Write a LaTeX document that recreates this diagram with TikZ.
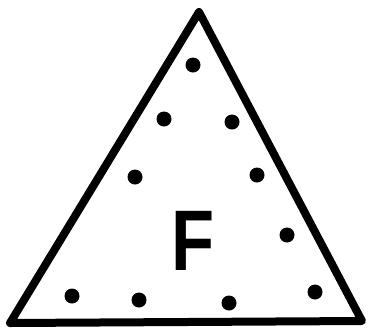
\documentclass[tikz,border=0pt]{standalone}
\usepackage{fontspec}
\setsansfont{Liberation Sans}
\begin{document}
\begin{tikzpicture}[x=1pt, y=-1pt]
	\useasboundingbox (0, 0) rectangle (369, 333);
	\draw[line width=8pt, line join=round] (199, 12)--(10, 323)--(362, 321)--cycle;
	\foreach \x/\y in {193/65, 164/119, 232/122, 135/177, 257/175, 287/235, 72/296, 139/300, 229/303, 315/292}
		\fill (\x, \y) circle (7.5);
	\node[xscale=0.82] (letterF) at (193, 241) {\fontsize{86}{86}\selectfont\sffamily\bfseries F};
\end{tikzpicture}
\end{document}
